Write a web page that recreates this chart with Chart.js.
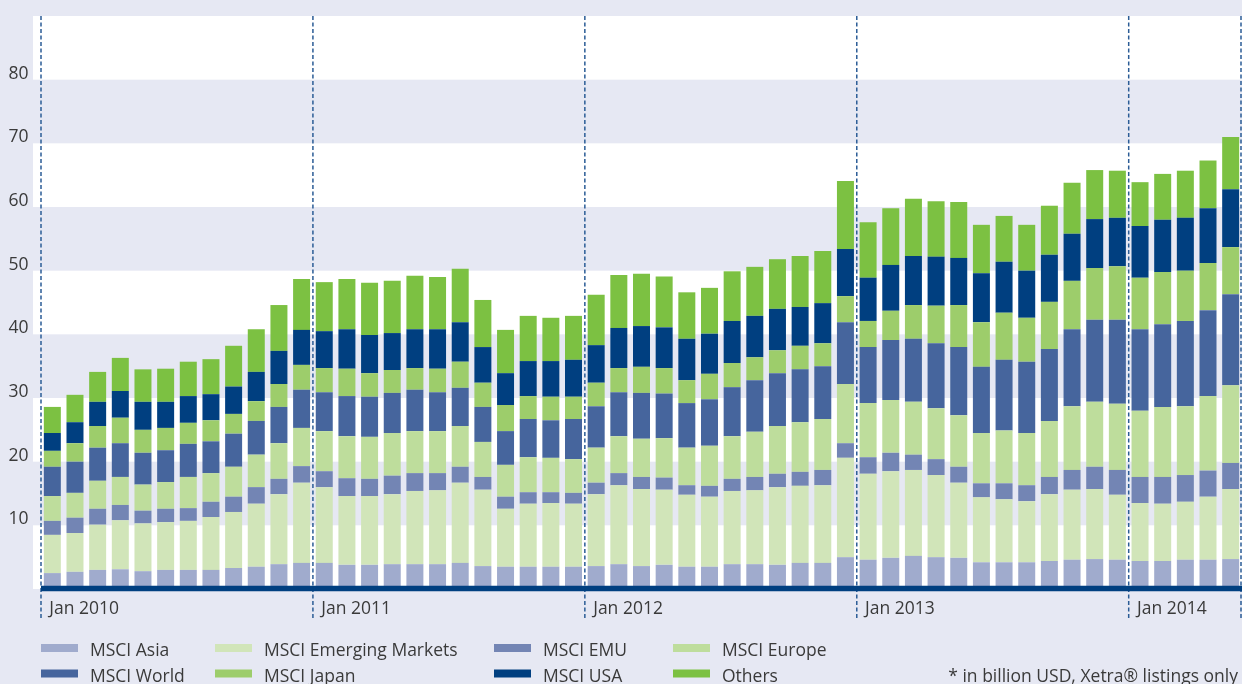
<!DOCTYPE html>
<html>
<head>
<meta charset="utf-8">
<script src="https://cdn.jsdelivr.net/npm/chart.js@4.4.1/dist/chart.umd.min.js"></script>
<style>
  html, body { margin: 0; padding: 0; background: #e6e8f3; }
  canvas { display: block; }
</style>
</head>
<body>
<canvas id="etfChart" width="1242" height="684"></canvas>
<script>
// Monthly categories, Jan 2010 - May 2014
const categories = [
  "Jan 2010","Feb 2010","Mar 2010","Apr 2010","May 2010","Jun 2010","Jul 2010","Aug 2010","Sep 2010","Oct 2010","Nov 2010","Dec 2010",
  "Jan 2011","Feb 2011","Mar 2011","Apr 2011","May 2011","Jun 2011","Jul 2011","Aug 2011","Sep 2011","Oct 2011","Nov 2011","Dec 2011",
  "Jan 2012","Feb 2012","Mar 2012","Apr 2012","May 2012","Jun 2012","Jul 2012","Aug 2012","Sep 2012","Oct 2012","Nov 2012","Dec 2012",
  "Jan 2013","Feb 2013","Mar 2013","Apr 2013","May 2013","Jun 2013","Jul 2013","Aug 2013","Sep 2013","Oct 2013","Nov 2013","Dec 2013",
  "Jan 2014","Feb 2014","Mar 2014","Apr 2014","May 2014"
];

const seriesNames = ["MSCI Asia", "MSCI Emerging Markets", "MSCI EMU", "MSCI Europe",
                     "MSCI World", "MSCI Japan", "MSCI USA", "Others"];

// values in billion USD
const msciAsia = [2.5,2.7,3.0,3.1,2.8,3.0,3.0,3.0,3.3,3.5,3.9,4.1, 4.1,3.8,3.8,3.9,3.9,3.9,4.1,3.6,3.5,3.5,3.5,3.5,
  3.6,3.9,3.6,3.8,3.5,3.5,3.9,3.9,3.8,4.1,4.1,5.0, 4.6,4.9,5.2,5.0,4.9,4.2,4.2,4.2,4.4,4.6,4.7,4.6, 4.4,4.4,4.6,4.6,4.7];
const msciEmerging = [6.0,6.1,7.1,7.7,7.5,7.5,7.7,8.3,8.8,9.9,11.0,12.6, 11.9,10.8,10.8,11.0,11.5,11.6,12.6,12.0,9.1,9.9,10.0,9.9,
  11.3,12.4,12.1,11.8,11.3,11.0,11.5,11.6,12.2,12.1,12.2,15.6, 13.5,13.6,13.5,12.9,11.8,10.2,9.9,9.6,10.5,11.0,11.0,10.2, 9.1,9.0,9.1,9.9,11.0];
const msciEmu = [2.2,2.4,2.5,2.4,2.0,2.1,2.0,2.4,2.4,2.6,2.4,2.6, 2.5,2.8,2.7,2.9,2.8,2.7,2.5,2.0,1.9,1.8,1.7,1.7,
  1.8,1.9,1.9,1.9,1.5,1.7,1.9,2.1,2.1,2.2,2.4,2.3, 2.6,2.9,2.4,2.5,2.5,2.2,2.5,2.5,2.7,3.1,3.5,3.9, 4.1,4.2,4.2,4.1,4.1];
const msciEurope = [3.9,3.9,4.4,4.4,4.1,4.2,4.9,4.5,4.7,5.1,5.6,6.0, 6.3,6.6,6.6,6.7,6.6,6.6,6.4,5.5,5.0,5.5,5.4,5.3,
  5.5,5.8,6.0,6.2,5.9,6.3,6.7,7.1,7.5,7.8,8.0,9.3, 8.5,8.3,8.3,8.0,8.1,7.9,8.3,8.2,8.8,10.0,10.2,10.4, 10.4,11.0,10.8,11.7,12.2];
const msciWorld = [4.6,4.9,5.2,5.3,5.0,5.0,5.2,5.0,5.2,5.3,5.7,6.0, 6.1,6.3,6.3,6.3,6.5,6.1,6.0,5.5,5.3,6.0,5.9,6.3,
  6.5,6.9,7.2,7.0,7.0,7.3,7.7,8.1,8.3,8.3,8.3,9.7, 8.8,9.4,9.9,10.2,10.7,10.4,11.1,11.2,11.3,12.1,12.9,13.2, 12.8,13.0,13.4,13.5,14.3];
const msciJapan = [2.5,2.9,3.4,4.0,3.6,3.5,3.3,3.3,3.1,3.1,3.6,3.9, 3.8,4.3,3.7,3.6,3.4,3.7,4.1,3.8,4.1,3.6,3.7,3.5,
  3.7,3.8,4.1,4.0,3.6,4.0,3.8,3.6,3.6,3.7,3.6,4.1, 4.1,4.6,5.3,5.9,6.6,7.0,7.4,6.9,7.4,7.6,8.1,8.4, 8.1,8.2,7.9,7.4,7.4];
const msciUsa = [2.8,3.3,3.8,4.2,4.4,4.1,4.2,4.1,4.3,4.6,5.2,5.5, 5.8,6.2,6.0,5.8,6.1,6.2,6.2,5.6,5.0,5.5,5.6,5.8,
  5.9,6.3,6.4,6.4,6.5,6.3,6.6,6.5,6.5,6.1,6.3,7.4, 6.8,7.2,7.7,7.7,7.4,7.7,8.0,7.4,7.4,7.4,7.7,7.6, 8.1,8.2,8.3,8.6,9.1];
const others = [4.1,4.3,4.7,5.2,5.1,5.2,5.4,5.5,6.4,6.7,7.2,8.0, 7.7,7.9,8.2,8.2,8.4,8.2,8.4,7.4,6.8,7.1,6.8,6.9,
  7.9,8.3,8.2,8.0,7.3,7.2,7.8,7.7,7.8,8.0,8.2,10.7, 8.7,8.9,9.0,8.7,8.8,7.6,7.2,7.2,7.7,8.0,7.7,7.4, 6.9,7.2,7.4,7.5,8.2];

const yTickLabels = [10, 20, 30, 40, 50, 60, 70, 80];
const footnote = "* in billion USD, Xetra\u00AE listings only";

const seriesData = [msciAsia, msciEmerging, msciEmu, msciEurope, msciWorld, msciJapan, msciUsa, others];
const seriesColors = ["#a0abcd", "#d1e5b9", "#7385b4", "#bedd9c", "#46659d", "#9dcd6b", "#003f80", "#7cc142"];

const FONT = "'Open Sans', 'Noto Sans', sans-serif";
const TEXT = "#3a3a3a";

// white / lavender bands, dashed year separators, heavy base line
const backdrop = {
  id: "backdrop",
  beforeDraw(chart) {
    const { ctx, scales: { y } } = chart;
    ctx.save();
    ctx.fillStyle = "#ffffff";
    for (let v = 0; v < y.max; v += 20) {
      const top = y.getPixelForValue(v + 10);
      const bottom = y.getPixelForValue(v);
      ctx.fillRect(33, top, chart.width - 33, bottom - top);
    }
    ctx.restore();
  },
  afterDatasetsDraw(chart) {
    const { ctx, chartArea, scales: { x, y } } = chart;
    ctx.save();
    // year separators
    const bounds = [];
    categories.forEach((c, i) => { if (c.startsWith("Jan")) bounds.push(i - 0.5); });
    bounds.push(categories.length - 0.5);
    ctx.strokeStyle = "#2b5c96";
    ctx.lineWidth = 1.5;
    ctx.setLineDash([4, 2.5]);
    bounds.forEach(b => {
      const px = Math.min(x.getPixelForValue(b), chart.width - 1);
      ctx.beginPath();
      ctx.moveTo(px, chartArea.top);
      ctx.lineTo(px, 619);
      ctx.stroke();
    });
    // base line
    ctx.setLineDash([]);
    ctx.strokeStyle = "#003f80";
    ctx.lineWidth = 5.5;
    const y0 = y.getPixelForValue(0) - 0.5;
    ctx.beginPath();
    ctx.moveTo(x.getPixelForValue(-0.5), y0);
    ctx.lineTo(chart.width, y0);
    ctx.stroke();
    ctx.restore();
  },
  afterDraw(chart) {
    const { ctx } = chart;
    const cols = [41, 215, 494, 673];
    const rows = [656, 681.5];
    ctx.save();
    ctx.font = "17.5px " + FONT;
    ctx.fillStyle = TEXT;
    ctx.textBaseline = "alphabetic";
    chart.data.datasets.forEach((ds, i) => {
      const cx = cols[i % 4];
      const by = rows[Math.floor(i / 4)];
      ctx.fillStyle = ds.backgroundColor;
      ctx.fillRect(cx, by - 12, 37, 8);
      ctx.fillStyle = TEXT;
      ctx.textAlign = "left";
      ctx.fillText(ds.label, cx + 49, by);
    });
    ctx.textAlign = "right";
    ctx.fillText(footnote, 1238, rows[1]);
    ctx.restore();
  }
};

const ctx = document.getElementById("etfChart").getContext("2d");
new Chart(ctx, {
  type: "bar",
  data: {
    labels: categories,
    datasets: seriesNames.map((name, i) => ({
      label: name,
      data: seriesData[i],
      backgroundColor: seriesColors[i],
      borderWidth: 0,
      barPercentage: 0.75,
      categoryPercentage: 1.0
    }))
  },
  options: {
    responsive: false,
    devicePixelRatio: 1,
    animation: false,
    layout: { padding: { top: 16, right: 0, bottom: 0, left: 0 } },
    plugins: {
      legend: { display: false },
      tooltip: { enabled: false }
    },
    scales: {
      x: {
        stacked: true,
        grid: { display: false, drawTicks: false },
        border: { display: false },
        ticks: {
          autoSkip: false,
          maxRotation: 0,
          minRotation: 0,
          align: "start",
          labelOffset: -3,
          padding: 10,
          color: TEXT,
          font: { family: FONT, size: 17.5 },
          callback: (val, idx) => categories[idx].startsWith("Jan") ? categories[idx] : ""
        },
        afterFit: s => { s.height = 95; s.paddingLeft = 0; s.paddingRight = 0; }
      },
      y: {
        stacked: true,
        min: 0,
        max: 90,
        grid: { display: false, drawTicks: false },
        border: { display: false },
        ticks: {
          stepSize: 10,
          padding: 12.5,
          labelOffset: -6,
          color: TEXT,
          font: { family: FONT, size: 17.5 },
          callback: v => yTickLabels.includes(v) ? String(v) : ""
        },
        afterFit: s => { s.width = 41; s.paddingTop = 0; s.paddingBottom = 0; }
      }
    }
  },
  plugins: [backdrop]
});
</script>
</body>
</html>
